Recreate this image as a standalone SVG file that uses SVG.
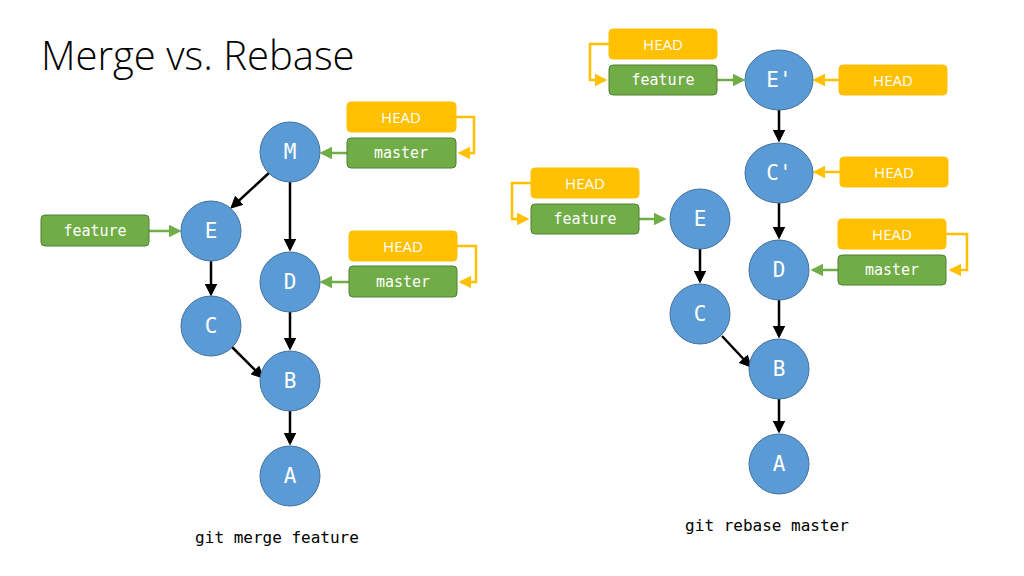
<svg xmlns="http://www.w3.org/2000/svg" width="1024" height="576" viewBox="0 0 1024 576">
<style>
.n{fill:#5b9bd5;stroke:#41719c;stroke-width:1}
.nt{font-family:"DejaVu Sans Mono",monospace;font-size:21px;fill:#fff;text-anchor:middle;dominant-baseline:central}
.g{fill:#70ad47;stroke:#507e32;stroke-width:1}
.h{fill:#ffc000;stroke:#ffc000}
.gt{font-family:"DejaVu Sans Mono",monospace;font-size:15px;fill:#fff;text-anchor:middle;dominant-baseline:central}
.ht{font-family:"Open Sans","Liberation Sans",sans-serif;font-size:15px;fill:#fff;text-anchor:middle;dominant-baseline:central}
.k{stroke:#000;stroke-width:2.5;fill:none;marker-end:url(#ak)}
.gl{stroke:#70ad47;stroke-width:2.5;fill:none;marker-end:url(#ag)}
.yl{stroke:#ffc000;stroke-width:2.5;fill:none;marker-end:url(#ay)}
.cap{font-family:"DejaVu Sans Mono",monospace;font-size:16px;fill:#000;text-anchor:middle}
</style>
<defs>
<marker id="ak" markerWidth="5" markerHeight="5" refX="4" refY="2.5" orient="auto" markerUnits="strokeWidth"><path d="M0,0L5,2.5L0,5z" fill="#000"/></marker>
<marker id="ag" markerWidth="5" markerHeight="5" refX="4" refY="2.5" orient="auto" markerUnits="strokeWidth"><path d="M0,0L5,2.5L0,5z" fill="#70ad47"/></marker>
<marker id="ay" markerWidth="5" markerHeight="5" refX="4" refY="2.5" orient="auto" markerUnits="strokeWidth"><path d="M0,0L5,2.5L0,5z" fill="#ffc000"/></marker>
</defs>
<rect width="1024" height="576" fill="#fff"/>
<text x="41" y="70" font-family="'Open Sans','Liberation Sans',sans-serif" font-weight="300" font-size="40" fill="#000">Merge vs. Rebase</text>
<g id="connectors">
<path class="k" d="M270,172L232,207"/>
<path class="k" d="M290,182L290,249"/>
<path class="k" d="M211,261L211,294"/>
<path class="k" d="M290,312L290,348"/>
<path class="k" d="M232,347L262,377"/>
<path class="k" d="M290,411L290,443"/>
<path class="gl" d="M347,153L322,153"/>
<path class="gl" d="M349,282L322,282"/>
<path class="gl" d="M149,231L179,231"/>
<path class="yl" d="M456,117L474,117L474,153L460,153"/>
<path class="yl" d="M457,246L476,246L476,282L461,282"/>
<path class="k" d="M779,110L779,140"/>
<path class="k" d="M779,203L779,237"/>
<path class="k" d="M779,300L779,336"/>
<path class="k" d="M779,399L779,431"/>
<path class="k" d="M700,249L700,281"/>
<path class="k" d="M722,336L750,366"/>
<path class="gl" d="M717,80L743,80"/>
<path class="gl" d="M639,219L664,219"/>
<path class="gl" d="M838,270L813,270"/>
<path class="yl" d="M839,80L815,80"/>
<path class="yl" d="M840,172L815,172"/>
<path class="yl" d="M609,44L590,44L590,80L605,80"/>
<path class="yl" d="M531,183L512,183L512,219L527,219"/>
<path class="yl" d="M946,234L967,234L967,270L951,270"/>
</g>
<g id="M"><circle class="n" cx="290" cy="152" r="30"/><text class="nt" x="290" y="152">M</text></g>
<g id="E"><circle class="n" cx="211" cy="231" r="30"/><text class="nt" x="211" y="231">E</text></g>
<g id="D"><circle class="n" cx="290" cy="282" r="30"/><text class="nt" x="290" y="282">D</text></g>
<g id="C"><circle class="n" cx="211" cy="326" r="30"/><text class="nt" x="211" y="326">C</text></g>
<g id="B"><circle class="n" cx="290" cy="381" r="30"/><text class="nt" x="290" y="381">B</text></g>
<g id="A"><circle class="n" cx="290" cy="476" r="30"/><text class="nt" x="290" y="476">A</text></g>
<g id="head1"><rect class="h" x="347" y="102" width="109" height="30" rx="4"/><text class="ht" x="401" y="117">HEAD</text></g>
<g id="master1"><rect class="g" x="347" y="138" width="109" height="30" rx="4"/><text class="gt" x="401" y="153">master</text></g>
<g id="head2"><rect class="h" x="349" y="231" width="108" height="30" rx="4"/><text class="ht" x="403" y="246">HEAD</text></g>
<g id="master2"><rect class="g" x="349" y="266" width="108" height="31" rx="4"/><text class="gt" x="403" y="282">master</text></g>
<g id="feature1"><rect class="g" x="41" y="215" width="108" height="31" rx="4"/><text class="gt" x="95" y="231">feature</text></g>
<g id="Ep"><ellipse class="n" cx="779" cy="80" rx="34" ry="30"/><text class="nt" x="779" y="80">E'</text></g>
<g id="Cp"><ellipse class="n" cx="779" cy="173" rx="34" ry="30"/><text class="nt" x="779" y="173">C'</text></g>
<g id="D2"><ellipse class="n" cx="779" cy="270" rx="30" ry="30"/><text class="nt" x="779" y="270">D</text></g>
<g id="B2"><ellipse class="n" cx="779" cy="369" rx="30" ry="30"/><text class="nt" x="779" y="369">B</text></g>
<g id="A2"><ellipse class="n" cx="779" cy="464" rx="30" ry="30"/><text class="nt" x="779" y="464">A</text></g>
<g id="E2"><ellipse class="n" cx="700" cy="219" rx="30" ry="30"/><text class="nt" x="700" y="219">E</text></g>
<g id="C2"><ellipse class="n" cx="700" cy="314" rx="30" ry="30"/><text class="nt" x="700" y="314">C</text></g>
<g id="head3"><rect class="h" x="609" y="29" width="108" height="30" rx="4"/><text class="ht" x="663" y="44">HEAD</text></g>
<g id="feature2"><rect class="g" x="609" y="65" width="108" height="30" rx="4"/><text class="gt" x="663" y="80">feature</text></g>
<g id="head4"><rect class="h" x="839" y="65" width="108" height="30" rx="4"/><text class="ht" x="893" y="80">HEAD</text></g>
<g id="head5"><rect class="h" x="840" y="157" width="108" height="30" rx="4"/><text class="ht" x="894" y="172">HEAD</text></g>
<g id="head6"><rect class="h" x="838" y="219" width="108" height="30" rx="4"/><text class="ht" x="892" y="234">HEAD</text></g>
<g id="master3"><rect class="g" x="838" y="255" width="108" height="30" rx="4"/><text class="gt" x="892" y="270">master</text></g>
<g id="head7"><rect class="h" x="531" y="168" width="108" height="30" rx="4"/><text class="ht" x="585" y="183">HEAD</text></g>
<g id="feature3"><rect class="g" x="531" y="204" width="108" height="30" rx="4"/><text class="gt" x="585" y="219">feature</text></g>
<text class="cap" x="277" y="543">git merge feature</text>
<text class="cap" x="767" y="531">git rebase master</text>
</svg>
